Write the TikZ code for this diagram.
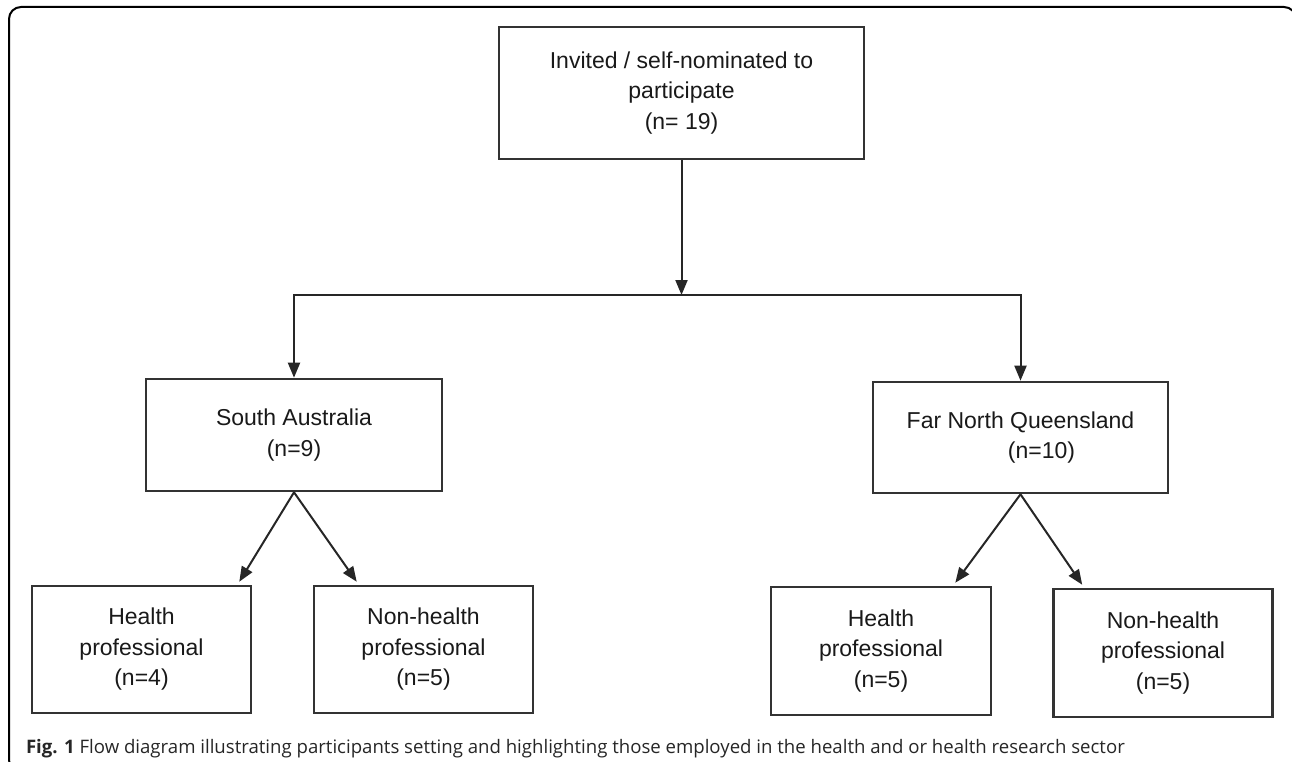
\documentclass[tikz,border=0pt]{standalone}
\usepackage{fontspec}
\setmainfont{Liberation Sans}
\newfontfamily\captionfont{Open Sans}
\usepackage{tikz}
\usetikzlibrary{arrows.meta}
\tikzset{
  main node/.style={rectangle,draw=black!80,line width=2.6pt,align=center,text=black!90,
    font=\fontsize{23}{30.5}\selectfont,inner sep=0pt},
  top node/.style={main node,minimum width=365pt,minimum height=132pt},
  region node/.style={main node,minimum width=296pt,minimum height=112pt},
  group node/.style={main node,minimum width=219pt,minimum height=128pt},
  caption/.style={anchor=base west,inner sep=0pt,text=black!85,font=\captionfont\fontsize{18.6}{22}\selectfont}
}

\begin{document}
\begin{tikzpicture}[x=1pt,y=-1pt,->,>={Triangle[length=15pt,width=12pt]},line width=2pt,draw=black!85]
        \useasboundingbox (0,0) rectangle (1292,762);
        \draw[-,line width=2pt,draw=black,rounded corners=12pt] (9,7) rectangle (1296,772);
        \node [top node] (top) at (681.5,93) {Invited / self-nominated to\\participate\\(n= 19)};
        \node [region node] (sa) at (294,435) {South Australia\\(n=9)};
        \node [region node,minimum width=295pt,minimum height=111pt] (fnq) at (1020.5,437.5)
              {Far North Queensland\\\hspace*{42pt}(n=10)};
        \node [group node,minimum height=127pt] (sah) at (141.5,649.5) {Health\\professional\\(n=4)};
        \node [group node,minimum height=127pt] (san) at (423.5,649.5) {Non-health\\professional\\(n=5)};
        \node [group node,minimum width=220pt] (fnqh) at (881,651) {Health\\professional\\(n=5)};
        \node [group node] (fnqn) at (1163,653) {Non-health\\professional\\(n=5)};
        \coordinate (split) at (681.5,295);
        \draw (top) -- (split);
        \draw (split) -| (sa);
        \draw (split) -| (fnq);
        \draw (sa.south) -- ([xshift=-13pt,yshift=3pt]sah.north east);
        \draw (sa.south) -- ([xshift=44pt,yshift=3pt]san.north west);
        \draw (fnq.south) -- ([xshift=-37pt,yshift=3pt]fnqh.north east);
        \draw (fnq.south) -- ([xshift=30pt,yshift=3pt]fnqn.north west);
        \node [caption] (cap) at (25,753) {\textbf{Fig. 1} Flow diagram illustrating participants setting and highlighting those employed in the health and or health research sector};
\end{tikzpicture}
\end{document}
